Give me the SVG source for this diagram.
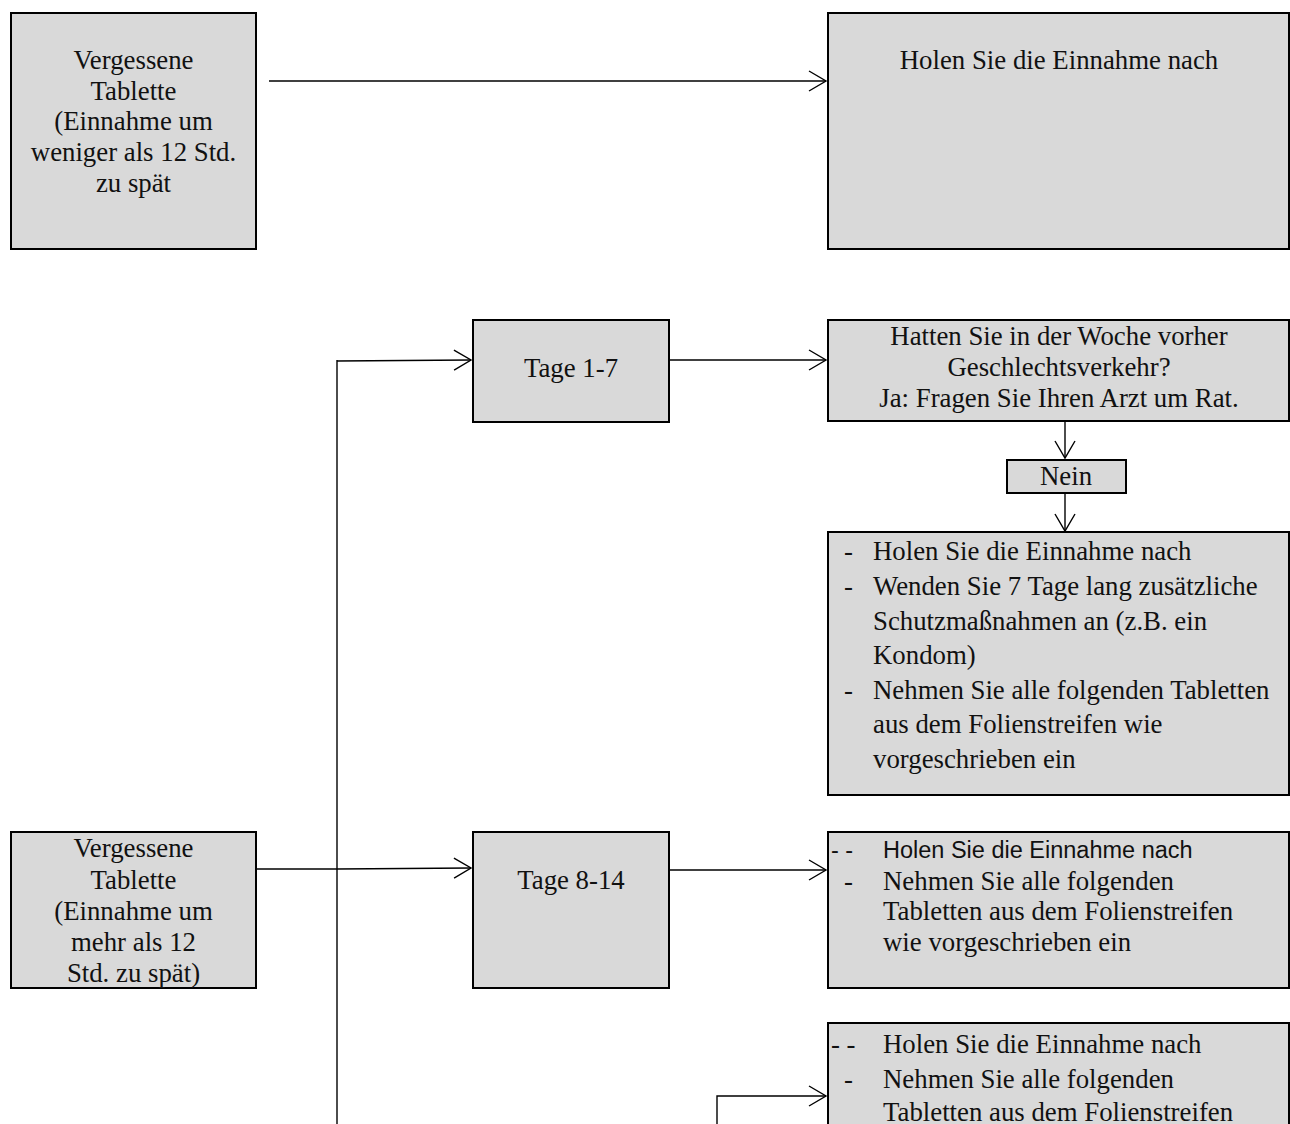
<svg xmlns="http://www.w3.org/2000/svg" width="1290" height="1124" viewBox="0 0 1290 1124">
<style>
.box{fill:#d9d9d9;stroke:#000;stroke-width:2}
.t{font-family:"Liberation Serif","Times New Roman",serif;font-size:26.8px;fill:#111}
.c{text-anchor:middle}
.s{font-family:"Liberation Sans",Arial,sans-serif;font-size:23.5px;fill:#111}
.con{fill:none;stroke:#000;stroke-width:1.4}
</style>
<defs>
<marker id="arr" markerUnits="userSpaceOnUse" markerWidth="30" markerHeight="30" viewBox="-22 -15 30 30" refX="0" refY="0" orient="auto">
<path d="M-17,-10 L0,0 L-17,10" fill="none" stroke="#000" stroke-width="1.4"/>
</marker>
</defs>
<rect width="1290" height="1124" fill="#fff"/>
<g id="connectors">
<line class="con" x1="269" y1="81" x2="826" y2="81" marker-end="url(#arr)"/>
<line class="con" x1="337" y1="360" x2="337" y2="1124" stroke-width="2"/>
<line class="con" x1="337" y1="361" x2="471" y2="360" marker-end="url(#arr)"/>
<line class="con" x1="256" y1="869" x2="337" y2="869" stroke-width="2"/>
<line class="con" x1="337" y1="869" x2="471" y2="868" marker-end="url(#arr)"/>
<line class="con" x1="669" y1="360" x2="826" y2="360" marker-end="url(#arr)"/>
<line class="con" x1="669" y1="870" x2="826" y2="870" marker-end="url(#arr)"/>
<polyline class="con" points="717,1124 717,1096 826,1096" marker-end="url(#arr)"/>
<line class="con" x1="1065" y1="422" x2="1065" y2="458" marker-end="url(#arr)"/>
<line class="con" x1="1065" y1="493" x2="1065" y2="531" marker-end="url(#arr)"/>
</g>
<g id="n_vergessen_weniger">
<rect class="box" x="11" y="13" width="245" height="236"/>
<text class="t c" x="133.5" y="69">Vergessene</text>
<text class="t c" x="133.5" y="100">Tablette</text>
<text class="t c" x="133.5" y="130">(Einnahme um</text>
<text class="t c" x="133.5" y="161">weniger als 12 Std.</text>
<text class="t c" x="133.5" y="192">zu spät</text>
</g>
<g id="n_holen_top">
<rect class="box" x="828" y="13" width="461" height="236"/>
<text class="t c" x="1059" y="69">Holen Sie die Einnahme nach</text>
</g>
<g id="n_tage17">
<rect class="box" x="473" y="320" width="196" height="102"/>
<text class="t c" x="571" y="377">Tage 1-7</text>
</g>
<g id="n_hatten">
<rect class="box" x="828" y="320" width="461" height="101"/>
<text class="t c" x="1059" y="345">Hatten Sie in der Woche vorher</text>
<text class="t c" x="1059" y="376">Geschlechtsverkehr?</text>
<text class="t c" x="1059" y="407">Ja: Fragen Sie Ihren Arzt um Rat.</text>
</g>
<g id="n_nein">
<rect class="box" x="1007" y="460" width="119" height="33"/>
<text class="t c" x="1066" y="485">Nein</text>
</g>
<g id="n_liste17">
<rect class="box" x="828" y="532" width="461" height="263"/>
<text class="t" x="844" y="560">-</text>
<text class="t" x="873" y="560">Holen Sie die Einnahme nach</text>
<text class="t" x="844" y="595">-</text>
<text class="t" x="873" y="595">Wenden Sie 7 Tage lang zusätzliche</text>
<text class="t" x="873" y="630">Schutzmaßnahmen an (z.B. ein</text>
<text class="t" x="873" y="664">Kondom)</text>
<text class="t" x="844" y="699">-</text>
<text class="t" x="873" y="699">Nehmen Sie alle folgenden Tabletten</text>
<text class="t" x="873" y="733">aus dem Folienstreifen wie</text>
<text class="t" x="873" y="768">vorgeschrieben ein</text>
</g>
<g id="n_vergessen_mehr">
<rect class="box" x="11" y="832" width="245" height="156"/>
<text class="t c" x="133.5" y="857">Vergessene</text>
<text class="t c" x="133.5" y="889">Tablette</text>
<text class="t c" x="133.5" y="920">(Einnahme um</text>
<text class="t c" x="133.5" y="951">mehr als 12</text>
<text class="t c" x="133.5" y="982">Std. zu spät)</text>
</g>
<g id="n_tage814">
<rect class="box" x="473" y="832" width="196" height="156"/>
<text class="t c" x="571" y="889">Tage 8-14</text>
</g>
<g id="n_liste814">
<rect class="box" x="828" y="832" width="461" height="156"/>
<text class="s" x="831" y="858">- -</text>
<text class="s" x="883" y="858">Holen Sie die Einnahme nach</text>
<text class="t" x="844" y="890">-</text>
<text class="t" x="883" y="890">Nehmen Sie alle folgenden</text>
<text class="t" x="883" y="920">Tabletten aus dem Folienstreifen</text>
<text class="t" x="883" y="951">wie vorgeschrieben ein</text>
</g>
<g id="n_liste_unten">
<rect class="box" x="828" y="1023" width="461" height="110"/>
<text class="t" x="831" y="1053">- -</text>
<text class="t" x="883" y="1053">Holen Sie die Einnahme nach</text>
<text class="t" x="844" y="1088">-</text>
<text class="t" x="883" y="1088">Nehmen Sie alle folgenden</text>
<text class="t" x="883" y="1121">Tabletten aus dem Folienstreifen</text>
</g>
</svg>
